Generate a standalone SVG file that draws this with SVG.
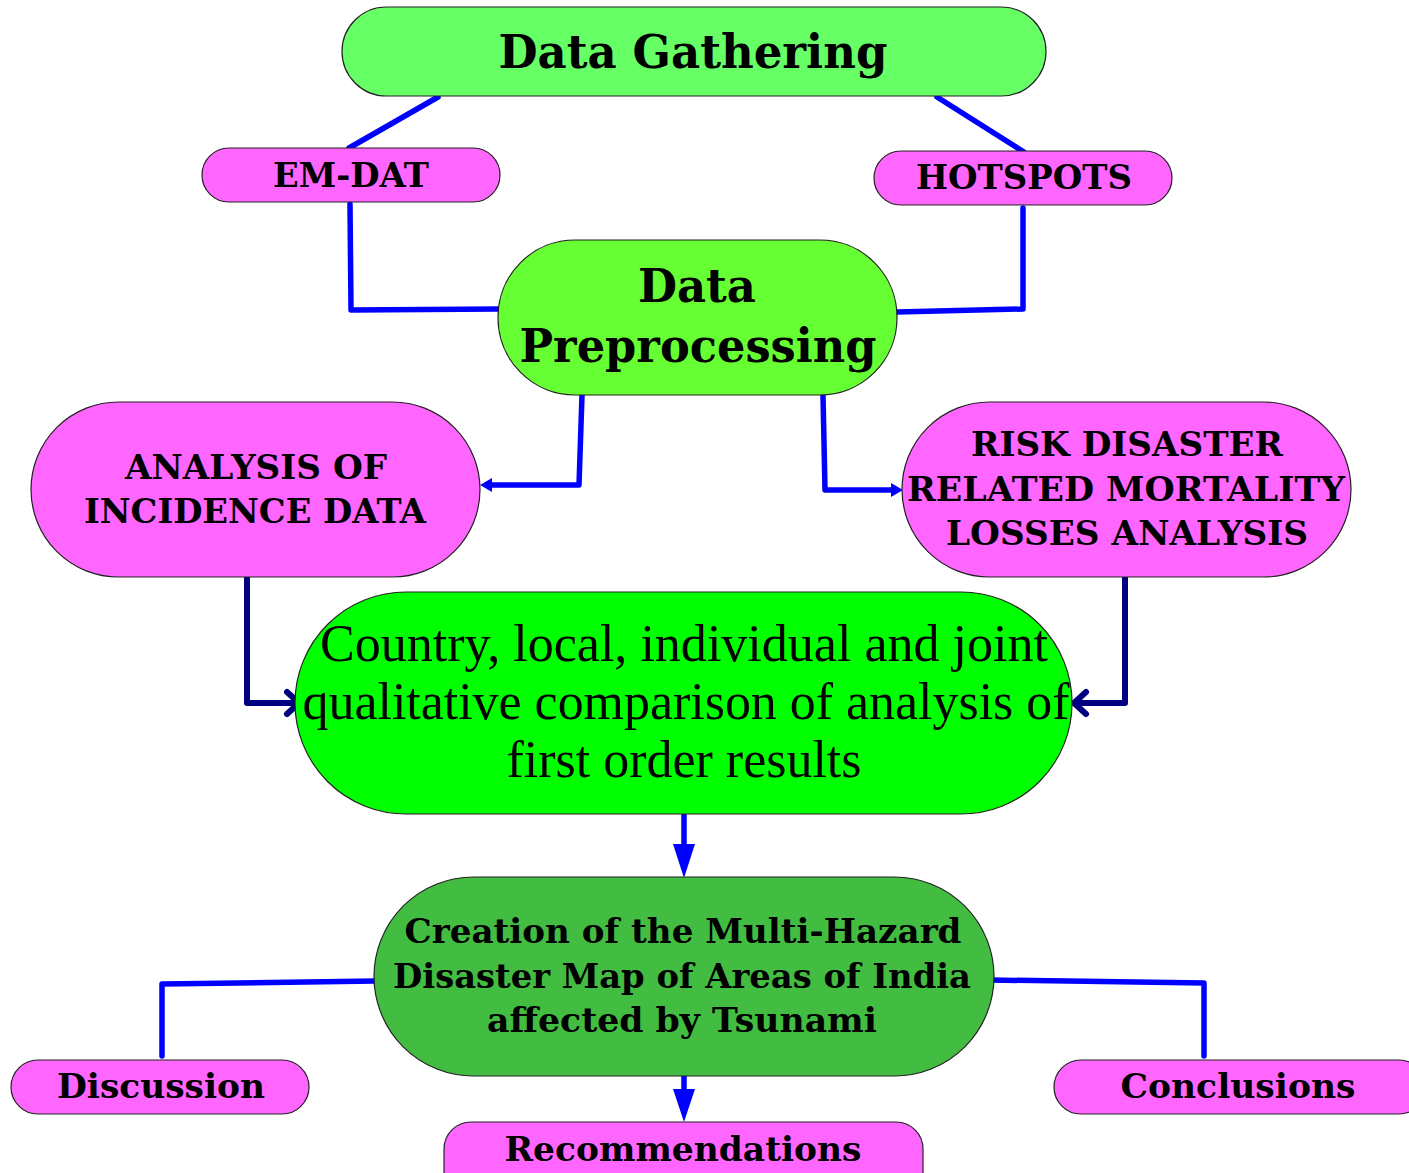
<svg xmlns="http://www.w3.org/2000/svg" width="1409" height="1173" viewBox="0 0 1409 1173">
  <style>
    .box { stroke: #222; stroke-width: 1.2; }
    .pink { fill: #ff66ff; }
    .lbl { font-family: "DejaVu Serif", "Liberation Serif", serif; font-weight: bold; fill: #000; text-anchor: middle; }
    .plain { font-family: "Liberation Serif", "DejaVu Serif", serif; fill: #000; text-anchor: middle; }
    .wire { fill: none; stroke: #0000ff; stroke-width: 5.5; stroke-linecap: round; stroke-linejoin: round; }
    .navy { fill: none; stroke: #000080; stroke-width: 6; stroke-linecap: round; stroke-linejoin: round; }
    .head { fill: #0000ff; }
  </style>
  <rect width="1409" height="1173" fill="#ffffff"/>

  <!-- connectors -->
  <g id="connectors">
    <line class="wire" x1="438" y1="97" x2="349" y2="148"/>
    <line class="wire" x1="937" y1="97" x2="1024" y2="152"/>
    <polyline class="wire" points="350,204 351,310 500,309"/>
    <polyline class="wire" points="1023,208 1023,309 897,312"/>
    <polyline class="wire" points="582,395 579,485 489,485"/>
    <polygon class="head" points="480,485 492,478 492,492"/>
    <polyline class="wire" points="823,395 825,490 892,490"/>
    <polygon class="head" points="903,490 891,483 891,497"/>
    <polyline class="navy" points="247,578 247,703 296,703"/>
    <polyline class="navy" points="287,692 299,703 287,714"/>
    <polyline class="navy" points="1125,578 1125,703 1076,703"/>
    <polyline class="navy" points="1086,692 1074,703 1086,714"/>
    <line class="wire" x1="684" y1="814" x2="684" y2="848"/>
    <polygon class="head" points="684,878 673,844 695,844"/>
    <polyline class="wire" points="376,981 162,984 162,1056"/>
    <polyline class="wire" points="990,980 1204,983 1204,1056"/>
    <line class="wire" x1="684" y1="1075" x2="684" y2="1092"/>
    <polygon class="head" points="684,1122 673,1089 695,1089"/>
  </g>

  <g id="data-gathering">
    <rect class="box" x="342" y="7" width="704" height="89" rx="44.5" fill="#66ff66"/>
    <text class="lbl" x="693" y="68" font-size="46" textLength="389" lengthAdjust="spacingAndGlyphs">Data Gathering</text>
  </g>

  <g id="em-dat">
    <rect class="box pink" x="202" y="148" width="298" height="54" rx="27"/>
    <text class="lbl" x="351" y="187" font-size="34" textLength="156" lengthAdjust="spacingAndGlyphs">EM-DAT</text>
  </g>

  <g id="hotspots">
    <rect class="box pink" x="874" y="151" width="298" height="54" rx="27"/>
    <text class="lbl" x="1024" y="189" font-size="34" textLength="216" lengthAdjust="spacingAndGlyphs">HOTSPOTS</text>
  </g>

  <g id="data-preprocessing">
    <rect class="box" x="498" y="240" width="399" height="155" rx="77" fill="#66ff33"/>
    <text class="lbl" x="697" y="302" font-size="46" textLength="118" lengthAdjust="spacingAndGlyphs">Data</text>
    <text class="lbl" x="698" y="362" font-size="46" textLength="357" lengthAdjust="spacingAndGlyphs">Preprocessing</text>
  </g>

  <g id="incidence-analysis">
    <rect class="box pink" x="31" y="402" width="449" height="175" rx="87.5"/>
    <text class="lbl" x="256" y="479" font-size="34" textLength="262" lengthAdjust="spacingAndGlyphs">ANALYSIS OF</text>
    <text class="lbl" x="255" y="523" font-size="34" textLength="342" lengthAdjust="spacingAndGlyphs">INCIDENCE DATA</text>
  </g>

  <g id="mortality-analysis">
    <rect class="box pink" x="902" y="402" width="449" height="175" rx="87.5"/>
    <text class="lbl" x="1127" y="456" font-size="34" textLength="312" lengthAdjust="spacingAndGlyphs">RISK DISASTER</text>
    <text class="lbl" x="1126" y="501" font-size="34" textLength="438" lengthAdjust="spacingAndGlyphs">RELATED MORTALITY</text>
    <text class="lbl" x="1127" y="545" font-size="34" textLength="362" lengthAdjust="spacingAndGlyphs">LOSSES ANALYSIS</text>
  </g>

  <g id="comparison">
    <rect class="box" x="295" y="592" width="777" height="222" rx="111" fill="#00ff00"/>
    <text class="plain" x="684" y="661" font-size="52" textLength="728" lengthAdjust="spacingAndGlyphs">Country, local, individual and joint</text>
    <text class="plain" x="686" y="719" font-size="52" textLength="767" lengthAdjust="spacingAndGlyphs">qualitative comparison of analysis of</text>
    <text class="plain" x="684" y="777" font-size="52" textLength="355" lengthAdjust="spacingAndGlyphs">first order results</text>
  </g>

  <g id="hazard-map">
    <rect class="box" x="374" y="877" width="620" height="199" rx="99.5" fill="#42bd42"/>
    <text class="lbl" x="683" y="943" font-size="34" textLength="557" lengthAdjust="spacingAndGlyphs">Creation of the Multi-Hazard</text>
    <text class="lbl" x="682" y="988" font-size="34" textLength="578" lengthAdjust="spacingAndGlyphs">Disaster Map of Areas of India</text>
    <text class="lbl" x="682" y="1032" font-size="34" textLength="390" lengthAdjust="spacingAndGlyphs">affected by Tsunami</text>
  </g>

  <g id="discussion">
    <rect class="box pink" x="11" y="1060" width="298" height="54" rx="27"/>
    <text class="lbl" x="161" y="1098" font-size="34" textLength="208" lengthAdjust="spacingAndGlyphs">Discussion</text>
  </g>

  <g id="conclusions">
    <rect class="box pink" x="1054" y="1060" width="372" height="54" rx="27"/>
    <text class="lbl" x="1238" y="1098" font-size="34" textLength="235" lengthAdjust="spacingAndGlyphs">Conclusions</text>
  </g>

  <g id="recommendations">
    <rect class="box pink" x="444" y="1122" width="479" height="80" rx="27"/>
    <text class="lbl" x="683" y="1161" font-size="34" textLength="357" lengthAdjust="spacingAndGlyphs">Recommendations</text>
  </g>
</svg>
